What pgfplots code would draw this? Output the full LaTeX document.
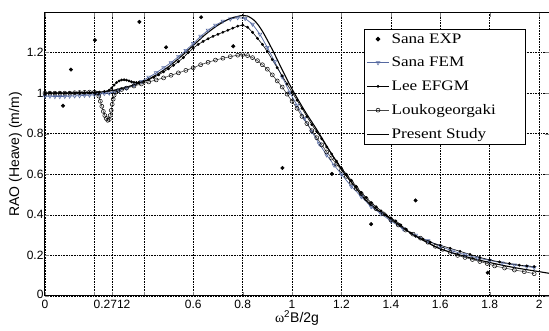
\documentclass[border=0pt]{standalone}
\usepackage{fontspec}
\setmainfont{Liberation Sans}
\newfontfamily\serifleg[FakeStretch=1.18]{Liberation Serif}
\newfontfamily\serifom{Liberation Serif}
\usepackage{pgfplots}
\pgfplotsset{compat=1.18}
\definecolor{femblue}{RGB}{85,105,160}
\definecolor{lougray}{RGB}{70,70,70}
\begin{document}
\begin{tikzpicture}
\useasboundingbox (-45pt,-35pt) rectangle (504pt,296pt);
\begin{axis}[
  at={(0,0)}, anchor=south west,
  width=504pt, height=283pt, scale only axis,
  xmin=0, xmax=2.04, ymin=0, ymax=1.395,
  xtick={0,0.2,0.2712,0.4,0.6,0.8,1,1.2,1.4,1.6,1.8,2},
  xticklabels={0,,0.2712,,0.6,0.8,1,1.2,1.4,1.6,1.8,2},
  ytick={0,0.2,0.4,0.6,0.8,1,1.2},
  yticklabels={\raisebox{4pt}{0},0.2,0.4,0.6,0.8,1,1.2},
  tick label style={font=\fontsize{12}{13}\selectfont},
  xticklabel style={yshift=-1pt},
  yticklabel style={xshift=2pt},
  /pgf/number format/assume math mode=true,
  label style={font=\fontsize{14}{15}\selectfont},
  xlabel={{\serifom ω}\textsuperscript{2}B/2g},
  ylabel={RAO (Heave) (m/m)},
  xlabel style={yshift=5pt},
  ylabel style={yshift=-2pt},
  grid=major,
  major grid style={black, dash pattern=on 0.8pt off 0.8pt, line width=0.6pt},
  tick align=inside, major tick length=4pt,
  axis line style={line width=1pt},
  legend style={at={(0.633,0.943)}, anchor=north west, draw=black, line width=0.9pt,
    font=\serifleg\fontsize{14.5}{15}\selectfont, row sep=8.5pt, inner sep=2pt,
    legend cell align=left},
  legend image code/.code={\draw[mark repeat=2,mark phase=2,#1] plot coordinates {(0pt,0pt) (11pt,0pt) (22pt,0pt)};},
  clip=true,
]
% Sana EXP
\addplot[only marks, mark=*, mark size=1.8pt, black] coordinates {
(0.073,0.938) (0.105,1.116) (0.202,1.261) (0.382,1.351) (0.49,1.226) (0.632,1.374)
(0.762,1.231) (0.961,0.631) (1.161,0.602) (1.32,0.354) (1.50,0.471) (1.792,0.115)};
\addlegendentry{Sana EXP}
% Sana FEM
\addplot[femblue, line width=0.7pt, mark=triangle, mark size=2.2pt, mark options={rotate=180, solid, line width=0.5pt}] coordinates {
(0,0.985) (0.02,0.985) (0.04,0.983) (0.06,0.983) (0.08,0.984) (0.1,0.985) (0.12,0.986) (0.14,0.987)
(0.16,0.989) (0.18,0.99) (0.2,0.992) (0.22,0.995) (0.24,0.998) (0.26,1.0) (0.28,1.005) (0.30,1.012)
(0.33,1.025) (0.36,1.04) (0.39,1.058) (0.42,1.078) (0.45,1.1) (0.48,1.125) (0.51,1.15) (0.54,1.18)
(0.57,1.21) (0.60,1.245) (0.63,1.28) (0.66,1.31) (0.69,1.335) (0.72,1.355) (0.75,1.365) (0.78,1.372)
(0.81,1.368) (0.84,1.34) (0.87,1.29) (0.90,1.225) (0.93,1.155) (0.96,1.08) (0.99,1.005) (1.02,0.94)
(1.05,0.875) (1.08,0.81) (1.11,0.75) (1.14,0.695) (1.17,0.645) (1.2,0.6) (1.24,0.54) (1.28,0.49)
(1.32,0.44) (1.36,0.405) (1.40,0.37) (1.45,0.33) (1.5,0.3) (1.55,0.272) (1.6,0.245) (1.65,0.222)
(1.7,0.203) (1.75,0.188) (1.8,0.175) (1.85,0.163) (1.9,0.153) (1.95,0.145) (1.98,0.14)};
\addlegendentry{Sana FEM}
% Lee EFGM
\addplot[black, line width=0.6pt, mark=*, mark size=1.1pt] coordinates {
(0,1.0) (0.02,1.002) (0.04,1.0) (0.06,1.002) (0.08,1.0) (0.10,1.002) (0.12,1.001) (0.14,1.003)
(0.16,1.002) (0.18,1.003) (0.20,1.003) (0.22,1.005) (0.24,1.008) (0.26,1.015) (0.27,1.025) (0.28,1.04)
(0.29,1.052) (0.30,1.06) (0.31,1.065) (0.32,1.066) (0.33,1.064) (0.34,1.06) (0.35,1.056) (0.36,1.053)
(0.37,1.052) (0.38,1.053) (0.40,1.058) (0.42,1.067) (0.44,1.078) (0.46,1.09) (0.48,1.105) (0.50,1.12)
(0.52,1.137) (0.54,1.155) (0.56,1.175) (0.58,1.2) (0.60,1.222) (0.62,1.24) (0.64,1.255) (0.66,1.268)
(0.68,1.28) (0.70,1.29) (0.72,1.30) (0.74,1.31) (0.76,1.32) (0.78,1.33) (0.80,1.335) (0.82,1.325)
(0.84,1.30) (0.86,1.27) (0.88,1.24) (0.90,1.205) (0.92,1.165) (0.94,1.125) (0.96,1.085) (0.98,1.045)
(1.00,1.005) (1.02,0.965) (1.04,0.925) (1.06,0.885) (1.08,0.845) (1.10,0.81) (1.12,0.775) (1.14,0.735)
(1.16,0.70) (1.18,0.665) (1.20,0.63) (1.22,0.6) (1.24,0.57) (1.26,0.54) (1.28,0.51) (1.30,0.485)
(1.32,0.46) (1.34,0.44) (1.36,0.42) (1.38,0.40) (1.40,0.385) (1.42,0.37) (1.44,0.35) (1.46,0.33)
(1.48,0.31) (1.50,0.295) (1.53,0.28) (1.56,0.265) (1.6,0.25) (1.64,0.235) (1.68,0.22) (1.72,0.205)
(1.76,0.19) (1.8,0.178) (1.84,0.168) (1.88,0.16) (1.92,0.152) (1.95,0.148) (1.98,0.145)};
\addlegendentry{Lee EFGM}
% Loukogeorgaki
\addplot[lougray, line width=0.6pt, mark=o, mark size=2pt, mark options={black, line width=0.5pt}] coordinates {
(0,1.0) (0.02,1.0) (0.04,1.0) (0.06,1.0) (0.08,1.0) (0.10,1.0) (0.12,1.002) (0.14,1.003)
(0.16,1.004) (0.18,1.005) (0.20,1.005) (0.21,1.0) (0.218,0.985) (0.224,0.96) (0.23,0.935) (0.236,0.91)
(0.242,0.89) (0.248,0.875) (0.254,0.866) (0.26,0.87) (0.264,0.89) (0.268,0.915) (0.272,0.945) (0.276,0.97)
(0.28,0.99) (0.286,1.005) (0.295,1.012) (0.31,1.018) (0.33,1.025) (0.36,1.035) (0.39,1.045) (0.42,1.055)
(0.45,1.065) (0.48,1.075) (0.51,1.088) (0.54,1.10) (0.57,1.112) (0.60,1.125) (0.63,1.14) (0.66,1.152)
(0.69,1.163) (0.72,1.172) (0.75,1.18) (0.78,1.187) (0.80,1.19) (0.82,1.185) (0.84,1.175) (0.86,1.16)
(0.88,1.14) (0.90,1.118) (0.92,1.09) (0.94,1.06) (0.96,1.03) (0.98,0.995) (1.00,0.96) (1.02,0.925)
(1.04,0.885) (1.06,0.85) (1.08,0.815) (1.10,0.78) (1.12,0.745) (1.14,0.71) (1.16,0.68) (1.18,0.65)
(1.20,0.62) (1.22,0.59) (1.24,0.56) (1.26,0.53) (1.28,0.505) (1.30,0.48) (1.32,0.455) (1.34,0.43)
(1.37,0.405) (1.40,0.375) (1.43,0.35) (1.46,0.325) (1.49,0.305) (1.52,0.285) (1.55,0.265) (1.58,0.245)
(1.61,0.23) (1.64,0.215) (1.67,0.2) (1.70,0.19) (1.73,0.18) (1.76,0.17) (1.79,0.16) (1.82,0.148)
(1.86,0.138) (1.90,0.128) (1.94,0.12) (1.98,0.11)};
\addlegendentry{Loukogeorgaki\hspace*{26pt}}
% Present Study
\addplot[black, line width=1.1pt, no marks, smooth] coordinates {
(0,1.0) (0.1,1.0) (0.2,1.003) (0.25,1.008) (0.3,1.02) (0.35,1.037) (0.4,1.057) (0.45,1.09)
(0.5,1.13) (0.55,1.18) (0.6,1.235) (0.65,1.29) (0.7,1.335) (0.75,1.368) (0.8,1.383) (0.82,1.38)
(0.85,1.355) (0.88,1.305) (0.92,1.215) (0.96,1.115) (1.0,1.02) (1.05,0.915) (1.1,0.82) (1.15,0.72)
(1.2,0.625) (1.25,0.545) (1.3,0.47) (1.35,0.42) (1.4,0.38) (1.45,0.335) (1.5,0.295) (1.55,0.262)
(1.6,0.232) (1.7,0.195) (1.8,0.165) (1.9,0.14) (2.0,0.12) (2.04,0.112)};
\addlegendentry{Present Study}
\end{axis}
\end{tikzpicture}
\end{document}
